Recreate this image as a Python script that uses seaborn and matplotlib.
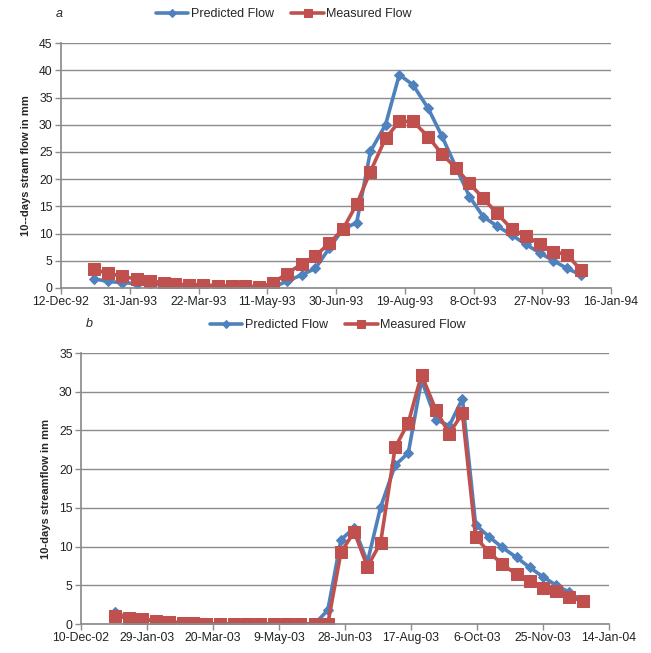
import numpy as np
import pandas as pd
import seaborn as sns
import matplotlib.pyplot as plt
import matplotlib.dates as mdates
from matplotlib.ticker import FuncFormatter

sns.set_theme(style="white")
plt.rcParams['font.family'] = ['Liberation Sans', 'DejaVu Sans']

# dekad mid-points (5th, 15th, 25th of each month)
dates_a = [pd.Timestamp(1993, m, d) for m in range(1, 13) for d in (5, 15, 25)]
dates_b = [pd.Timestamp(2003, m, d) for m in range(1, 13) for d in (5, 15, 25)]

pred_a = [1.7, 1.2, 1.0, 0.8, 0.7, 0.6, 0.5, 0.5, 0.4, 0.3, 0.3, 0.3, 0.2,
          0.1, 1.2, 2.4, 3.6, 7.3, 10.8, 12.0, 25.1, 30.0, 39.2, 37.3, 33.0,
          27.9, 22.3, 16.8, 13.1, 11.4, 9.7, 8.0, 6.5, 5.0, 3.6, 2.4]
meas_a = [3.4, 2.7, 2.2, 1.6, 1.35, 0.9, 0.7, 0.6, 0.6, 0.4, 0.4, 0.4, 0.2,
          0.9, 2.6, 4.4, 5.9, 8.2, 10.8, 15.4, 21.4, 27.5, 30.6, 30.6, 27.8,
          24.6, 22.1, 19.2, 16.5, 13.7, 10.8, 9.6, 8.1, 6.7, 6.1, 3.3]

pred_b = [1.5, 0.8, 0.6, 0.4, 0.2, 0.1, 0.1, 0, 0, 0, 0, 0, 0, 0, 0, 0,
          1.8, 10.9, 12.4, 8.0, 15.1, 20.5, 22.1, 31.5, 26.4, 25.6, 29.1,
          12.8, 11.3, 9.9, 8.6, 7.3, 6.1, 5.0, 4.1, 2.9]
meas_b = [1.0, 0.8, 0.6, 0.4, 0.3, 0.15, 0.1, 0, 0, 0, 0, 0, 0, 0, 0, 0,
          0, 9.3, 11.9, 7.4, 10.5, 22.8, 26.0, 32.2, 27.6, 24.6, 27.2,
          11.2, 9.3, 7.75, 6.4, 5.6, 4.6, 4.2, 3.45, 3.0]

BLUE = "#4F81BD"
RED = "#C0504D"


def day_fmt(x, pos):
    d = mdates.num2date(x)
    return f"{d.day}-{d.strftime('%b-%y')}"


def panel(ax, dates, pred, meas, start, ymax, ylabel, tag, leg_xy, tag_xy):
    df = pd.DataFrame({"date": dates, "Predicted Flow": pred,
                       "Measured Flow": meas})
    sns.lineplot(data=df, x="date", y="Predicted Flow", ax=ax, color=BLUE,
                 lw=2.6, marker="D", markersize=5.5, markeredgecolor=BLUE,
                 label="Predicted Flow")
    sns.lineplot(data=df, x="date", y="Measured Flow", ax=ax, color=RED,
                 lw=2.6, marker="s", markersize=8, markeredgecolor=RED,
                 label="Measured Flow")
    start = pd.Timestamp(start)
    ticks = [start + pd.Timedelta(days=50 * i) for i in range(9)]
    ax.set_xlim(ticks[0], ticks[-1])
    ax.set_xticks(ticks)
    ax.xaxis.set_major_formatter(FuncFormatter(day_fmt))
    ax.set_ylim(0, ymax)
    ax.set_yticks(np.arange(0, ymax + 1, 5))
    ax.yaxis.grid(True, color="#8c8c8c", lw=1)
    ax.set_axisbelow(True)
    for s in ("top", "right"):
        ax.spines[s].set_visible(False)
    for s in ("left", "bottom"):
        ax.spines[s].set_color("#8c8c8c")
    ax.tick_params(axis="both", direction="out", length=4, width=1,
                   color="#8c8c8c", labelsize=8.8, pad=2, left=True,
                   bottom=True, labelcolor="#222222")
    ax.set_xlabel("")
    ax.set_ylabel(ylabel, fontsize=8, fontweight="bold", labelpad=6)
    ax.legend(loc="center", bbox_to_anchor=leg_xy, ncol=2,
              frameon=False, fontsize=9, handlelength=2.6, markerscale=0.75,
              handletextpad=0.2, columnspacing=1.4, borderaxespad=0.0)
    ax.text(tag_xy[0], tag_xy[1], tag, transform=ax.transAxes, fontsize=9,
            style="italic", ha="left", va="center")


fig = plt.figure(figsize=(6.51, 6.53), dpi=100)
ax1 = fig.add_axes([0.0937, 0.559, 0.845, 0.375])
ax2 = fig.add_axes([0.1244, 0.0444, 0.811, 0.415])

panel(ax1, dates_a, pred_a, meas_a, "1992-12-12", 45,
      "10--days stram flow in mm", "a", (0.405, 1.118), (-0.01, 1.118))
panel(ax2, dates_b, pred_b, meas_b, "2002-12-10", 35,
      "10-days streamflow in mm", "b", (0.486, 1.103), (0.01, 1.107))

fig.savefig("out.png", dpi=100)
